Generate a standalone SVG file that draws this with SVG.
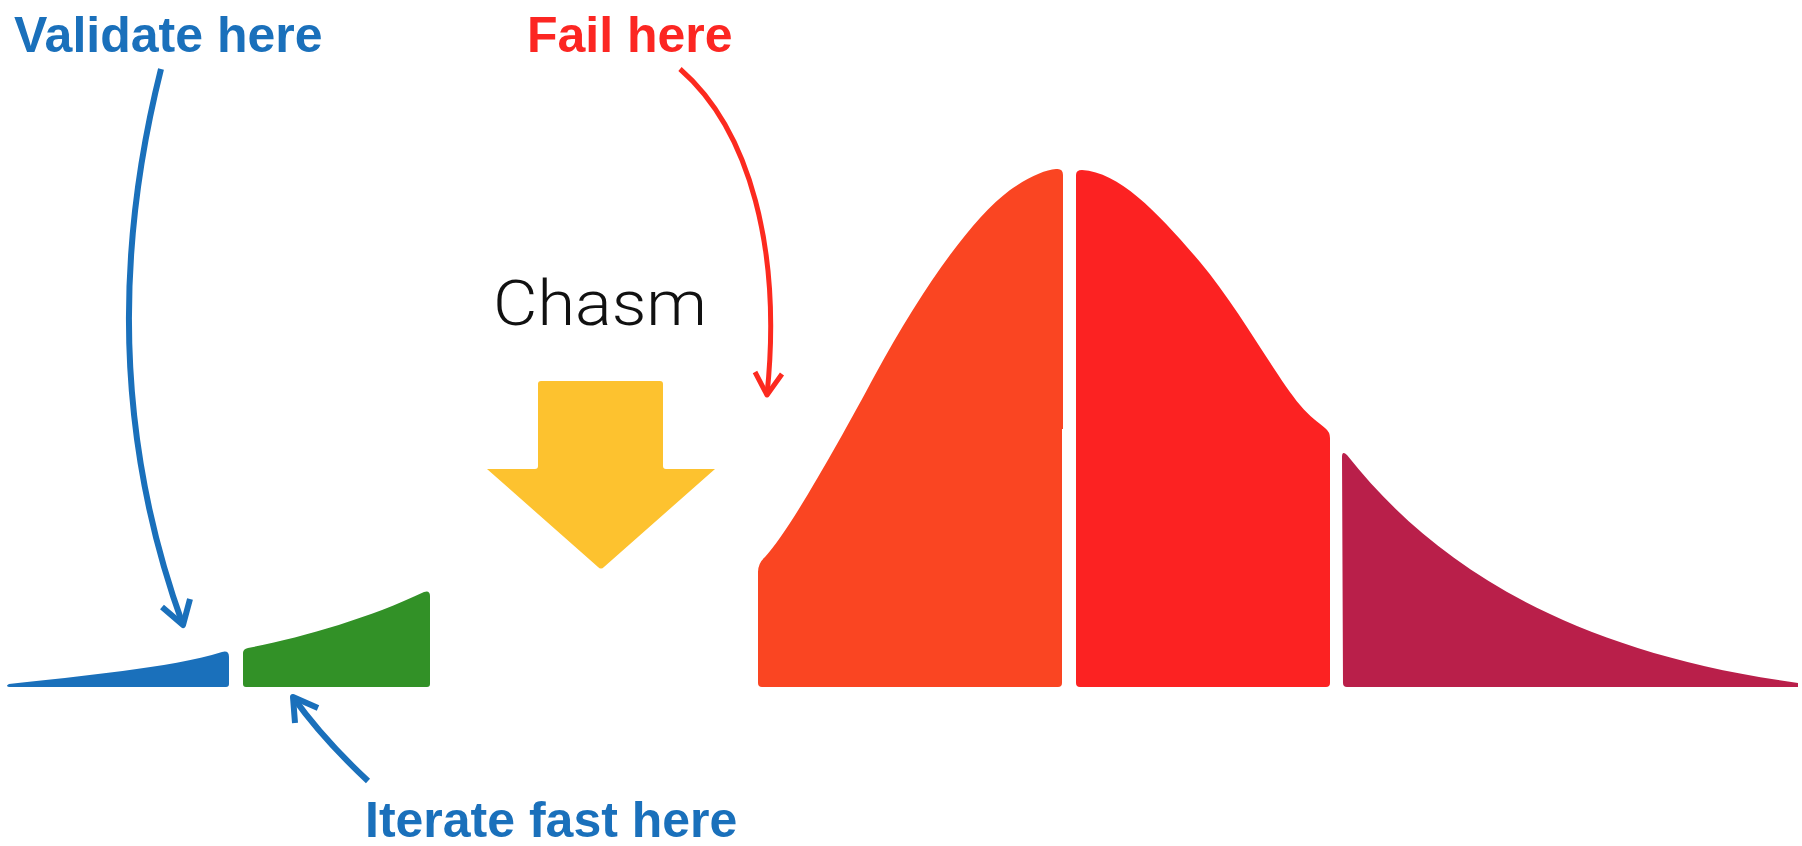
<svg xmlns="http://www.w3.org/2000/svg" width="1802" height="846" viewBox="0 0 1802 846">
<style>
.lbl{font-family:"Liberation Sans",Arial,sans-serif;font-weight:bold;font-size:50px}
.blue{fill:#1a70bb}
.red{fill:#fc2622}
.chasm{font-family:Roboto,"Liberation Sans",Arial,sans-serif;font-weight:300;font-size:63px;fill:#111}
.con{fill:none;stroke-linejoin:round;stroke-linecap:butt}
.cb{stroke:#1a70bb;stroke-width:6}
.cr{stroke:#fc2a1f;stroke-width:5}
</style>
<rect width="1802" height="846" fill="#fff"/>
<g id="innovators"><path d="M9,687 Q5,686 9,684 C80,676 170,668 222,652 Q229,650 229,657 L229,684 Q229,687 226,687 Z" fill="#1a70bb"/></g>
<g id="early-adopters"><path d="M243,653 Q243,649 248,648 C300,638 370,618 424,592 Q430,590 430,596 L430,684 Q430,687 427,687 L246,687 Q243,687 243,684 Z" fill="#329127"/></g>
<g id="early-majority"><path d="M758,683 L758,572 Q758,563 765,557 C790,530 840,440 875,375 C920,292 970,220 1010,190 C1030,176 1045,170 1056,169 Q1063,168 1063,175 L1063,429 L1062,429 L1062,683 Q1062,687 1058,687 L762,687 Q758,687 758,683 Z" fill="#fa4522"/></g>
<g id="late-majority"><path d="M1076,683 L1076,175 Q1076,170 1082,170 C1120,172 1160,215 1200,262 C1240,310 1275,375 1300,405 C1310,417 1318,422 1325,428 Q1330,432 1330,438 L1330,683 Q1330,687 1326,687 L1080,687 Q1076,687 1076,683 Z" fill="#fc2222"/></g>
<g id="laggards"><path d="M1343,683 L1342,457 Q1342,450 1347,455 C1430,560 1560,650 1798,683 L1798,687 L1347,687 Q1343,687 1343,683 Z" fill="#b91f4a"/></g>
<g id="chasm">
<text class="chasm" x="493" y="325" textLength="214" lengthAdjust="spacingAndGlyphs">Chasm</text>
<path d="M541,381 L660,381 Q663,381 663,384 L663,466 Q663,469 666,469 L715,469 L604,567 Q601,570 598,567 L487,469 L535,469 Q538,469 538,466 L538,384 Q538,381 541,381 Z" fill="#fdc22f"/>
</g>
<g id="label-validate"><text class="lbl blue" x="14" y="52">Validate here</text></g>
<g id="label-fail"><text class="lbl red" x="527" y="52">Fail here</text></g>
<g id="label-iterate"><text class="lbl blue" x="365" y="837">Iterate fast here</text></g>
<g id="connectors">
<path class="con cb" d="M161,69 C118,240 112,430 183,625"/>
<path class="con cb" d="M162,607 L183,625 L190,599"/>
<path class="con cr" d="M680,69 C750,130 782,250 767,395"/>
<path class="con cr" d="M755,372 L767,395 L782,374"/>
<path class="con cb" d="M368,781 Q322,738 293,697"/>
<path class="con cb" d="M295,723 L293,697 L318,708"/>
</g>
</svg>
